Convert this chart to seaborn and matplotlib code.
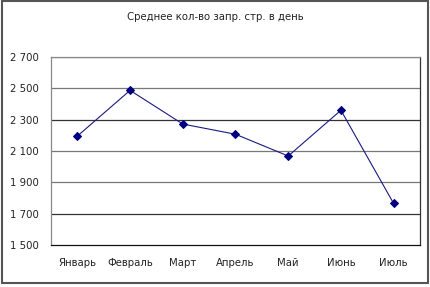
import matplotlib
matplotlib.use("Agg")
import matplotlib.pyplot as plt
import seaborn as sns
import pandas as pd
from matplotlib.patches import Rectangle
from matplotlib.ticker import FuncFormatter, FixedLocator

title = "Среднее кол-во запр. стр. в день"
months = ["Январь", "Февраль", "Март", "Апрель", "Май", "Июнь", "Июль"]
values = [2195, 2487, 2272, 2207, 2068, 2360, 1765]
y_ticks = [1500, 1700, 1900, 2100, 2300, 2500, 2700]

sns.set_style("white")
plt.rcParams["font.family"] = ["DejaVu Sans"]

df = pd.DataFrame({"month": months, "value": values})

fig = plt.figure(figsize=(4.31, 2.87), dpi=100)
ax = fig.add_axes([51 / 431, 42 / 287, 369 / 431, 188 / 287])

sns.lineplot(data=df, x="month", y="value", sort=False, ax=ax,
             color="#1a1a80", linewidth=0.8, marker="D", markersize=4,
             markerfacecolor="#000080", markeredgecolor="#000080")

ax.set_xlim(-0.5, len(months) - 0.5)
ax.set_ylim(1500, 2700)
ax.set_yticks(y_ticks)
ax.yaxis.set_major_formatter(FuncFormatter(lambda v, p: f"{int(v):,}".replace(",", " ")))
ax.set_xticks(range(len(months)))
ax.set_xticklabels(months)
ax.tick_params(axis="x", which="major", length=0, pad=9, labelsize=7.3, colors="#222222")
ax.xaxis.set_minor_locator(FixedLocator([i - 0.5 for i in range(len(months) + 1)]))
ax.tick_params(axis="x", which="minor", length=4, width=0.8, color="#333333", direction="out")
ax.tick_params(axis="y", length=4, width=0.8, color="#777777", direction="out", labelsize=7.3,
               colors="#222222", pad=5)
ax.set_xlabel("")
ax.set_ylabel("")

for v in y_ticks[1:]:
    ax.axhline(v, color="#333333" if v in (1700, 2300) else "#777777", linewidth=0.9, zorder=0)

for s in ["left", "top"]:
    ax.spines[s].set_color("#888888")
    ax.spines[s].set_linewidth(0.9)
ax.spines["bottom"].set_color("#111111")
ax.spines["bottom"].set_linewidth(0.9)
ax.spines["right"].set_color("#333333")
ax.spines["right"].set_linewidth(0.9)

fig.text(0.5, 1 - 17 / 287, title, ha="center", va="center", fontsize=7.3, color="#222222")

fig.patches.append(Rectangle((2 / 431, 4 / 287), 426 / 431, 282 / 287, transform=fig.transFigure,
                             fill=False, edgecolor="#555555", linewidth=1.5))

fig.savefig("out.png", dpi=100)
